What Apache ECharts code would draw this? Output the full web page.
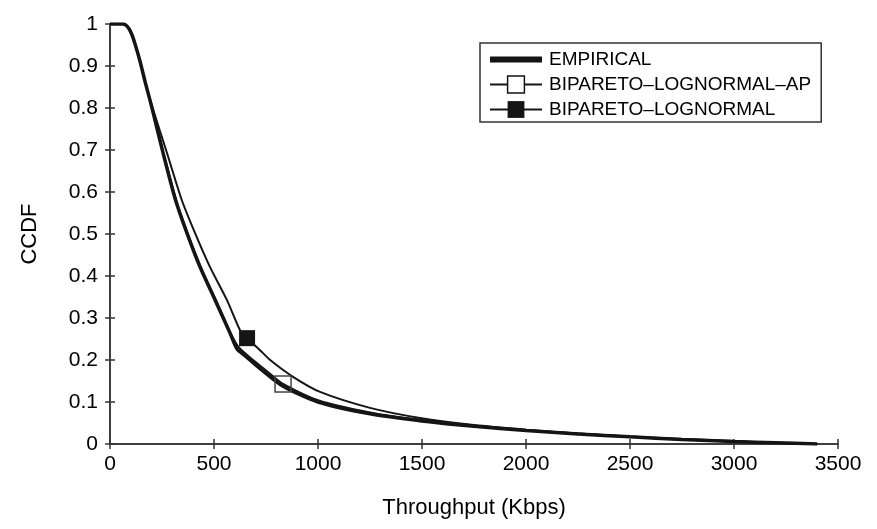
<!DOCTYPE html>
<html lang="en">
<head>
    <meta charset="UTF-8">
    <title>CCDF throughput</title>
    <script src="https://cdn.jsdelivr.net/npm/echarts@6/dist/echarts.min.js"></script>
    <style>
        html, body { margin: 0; padding: 0; background: #fff; }
    </style>
</head>
<body>
<div id="main" style="width: 877px;height:529px;"></div>
<script type="text/javascript">
    // values (Kbps, CCDF)
    var empX = [0, 60, 75, 90, 105, 120, 144, 170, 202, 255, 315, 370, 433, 505, 577, 611, 650, 720, 830, 1000, 1250, 1500, 1750, 2000, 2250, 2500, 2750, 3000, 3200, 3400];
    var empY = [1, 1, 0.998, 0.99, 0.975, 0.953, 0.912, 0.86, 0.80, 0.693, 0.581, 0.502, 0.421, 0.343, 0.264, 0.226, 0.21, 0.18, 0.138, 0.1, 0.072, 0.055, 0.042, 0.032, 0.024, 0.017, 0.011, 0.006, 0.003, 0];

    var apX = [0, 60, 75, 90, 105, 120, 144, 170, 202, 257, 318, 373, 437, 509, 580, 620, 700, 780, 832, 1000, 1250, 1500, 1750, 2000, 2250, 2500, 2750, 3000, 3200, 3400];
    var apY = [1, 1, 0.998, 0.99, 0.975, 0.953, 0.912, 0.86, 0.80, 0.693, 0.581, 0.502, 0.421, 0.343, 0.264, 0.23, 0.195, 0.163, 0.143, 0.104, 0.075, 0.057, 0.044, 0.033, 0.025, 0.018, 0.012, 0.007, 0.003, 0];
    var apMarkX = 832;

    var blX = [0, 60, 75, 90, 105, 120, 144, 170, 205, 274, 345, 409, 481, 562, 625, 659, 720, 770, 880, 1010, 1250, 1490, 1750, 2000, 2250, 2500, 2750, 3000, 3200, 3400];
    var blY = [1, 1, 0.998, 0.99, 0.975, 0.953, 0.912, 0.86, 0.80, 0.693, 0.581, 0.502, 0.421, 0.343, 0.271, 0.252, 0.224, 0.2, 0.16, 0.124, 0.086, 0.062, 0.045, 0.034, 0.025, 0.017, 0.011, 0.006, 0.003, 0];
    var blMarkX = 659;

    var xTicks = [0, 500, 1000, 1500, 2000, 2500, 3000, 3500];
    var yTicks = [0, 0.1, 0.2, 0.3, 0.4, 0.5, 0.6, 0.7, 0.8, 0.9, 1];

    var names = ['EMPIRICAL', 'BIPARETO\u2013LOGNORMAL\u2013AP', 'BIPARETO\u2013LOGNORMAL'];

    // only the marked point keeps its symbol
    function build(xs, ys, markX) {
        return xs.map(function (x, i) {
            if (x === markX) return [x, ys[i]];
            return {value: [x, ys[i]], symbol: 'none'};
        });
    }

    var font = "'Liberation Sans', Arial, sans-serif";
    var ink = '#151515';

    function axisBase(showLabel) {
        return {
            type: 'value',
            axisLine: {show: true, lineStyle: {color: '#333', width: 1.5}},
            axisTick: {show: true, inside: true, length: 5, lineStyle: {color: '#333', width: 1.5}},
            axisLabel: {
                show: showLabel, color: '#000', fontSize: 21, fontFamily: font,
                formatter: function (v) { return String(Math.round(v * 10) / 10); }
            },
            splitLine: {show: false}
        };
    }

    var xMain = axisBase(true);
    xMain.position = 'bottom';
    xMain.min = xTicks[0];
    xMain.max = xTicks[xTicks.length - 1];
    xMain.interval = 500;
    xMain.axisLabel.margin = 10;
    xMain.name = 'Throughput (Kbps)';
    xMain.nameLocation = 'middle';
    xMain.nameGap = 53;
    xMain.nameTextStyle = {color: '#000', fontSize: 22, fontFamily: font};

    var xTop = axisBase(false);
    xTop.position = 'top';
    xTop.min = xTicks[0];
    xTop.max = xTicks[xTicks.length - 1];
    xTop.interval = 500;

    var yMain = axisBase(true);
    yMain.position = 'left';
    yMain.min = yTicks[0];
    yMain.max = yTicks[yTicks.length - 1];
    yMain.interval = 0.1;
    yMain.axisLabel.margin = 12;
    yMain.name = 'CCDF';
    yMain.nameLocation = 'middle';
    yMain.nameGap = 69;
    yMain.nameTextStyle = {color: '#000', fontSize: 22, fontFamily: font};

    var yRight = axisBase(false);
    yRight.position = 'right';
    yRight.min = yTicks[0];
    yRight.max = yTicks[yTicks.length - 1];
    yRight.interval = 0.1;

    var myChart = echarts.init(document.getElementById('main'));
    var option = {
        backgroundColor: '#fff',
        animation: false,
        grid: {left: 110, right: 39, top: 24, bottom: 85},
        legend: {
            orient: 'vertical',
            left: 480,
            top: 43,
            padding: [7, 10, 3, 9],
            itemWidth: 52,
            itemHeight: 21,
            itemGap: 6,
            borderColor: '#333',
            borderWidth: 1.5,
            backgroundColor: '#fff',
            textStyle: {color: '#000', fontSize: 19, fontFamily: font, padding: [0, 0, 0, 2]},
            data: [
                {name: names[0], icon: 'path://M0,0 H52 V6 H0 Z', itemStyle: {color: ink}},
                {name: names[1], itemStyle: {color: '#fff', borderColor: ink, borderWidth: 1.5}},
                {name: names[2], itemStyle: {color: ink}}
            ]
        },
        xAxis: [xMain, xTop],
        yAxis: [yMain, yRight],
        series: [
            {
                name: names[2],
                type: 'line',
                data: build(blX, blY, blMarkX),
                symbol: 'rect',
                symbolSize: 16,
                showSymbol: true,
                showAllSymbol: true,
                smooth: 0.25,
                itemStyle: {color: ink},
                lineStyle: {color: ink, width: 2},
                z: 3
            },
            {
                name: names[1],
                type: 'line',
                data: build(apX, apY, apMarkX),
                symbol: 'rect',
                symbolSize: 16,
                showSymbol: true,
                showAllSymbol: true,
                smooth: 0.25,
                itemStyle: {color: 'rgba(255,255,255,0)', borderColor: '#444', borderWidth: 1.5},
                lineStyle: {color: ink, width: 2},
                z: 4
            },
            {
                name: names[0],
                type: 'line',
                data: build(empX, empY, null),
                symbol: 'none',
                smooth: 0.25,
                lineStyle: {color: ink, width: 3.5},
                z: 2
            }
        ]
    };
    myChart.setOption(option);
</script>
</body>
</html>
